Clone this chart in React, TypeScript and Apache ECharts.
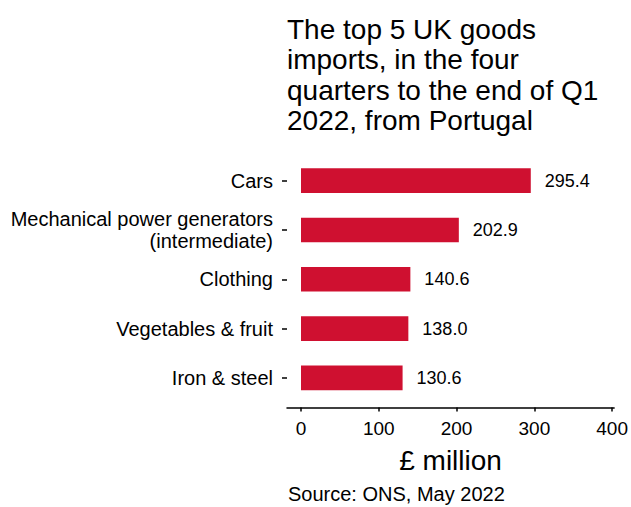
import React, { useEffect, useRef } from "react";
import * as echarts from "echarts";

const categories = [
  "Cars",
  "Mechanical power generators\n(intermediate)",
  "Clothing",
  "Vegetables & fruit",
  "Iron & steel",
];
const values = [295.4, 202.9, 140.6, 138.0, 130.6];
const xTicks = [0, 100, 200, 300, 400];
const titleText =
  "The top 5 UK goods\nimports, in the four\nquarters to the end of Q1\n2022, from Portugal";
const sourceText = "Source: ONS, May 2022";

const FONT = "'Liberation Sans', Arial, sans-serif";

export default function App() {
  const ref = useRef<HTMLDivElement>(null);
  useEffect(() => {
    if (!ref.current) return;
    const chart = echarts.init(ref.current, null, { renderer: "svg" });
    chart.setOption({
      animation: false,
      backgroundColor: "#ffffff",
      textStyle: { fontFamily: FONT },
      title: [
        {
          text: titleText,
          left: 287,
          top: 14,
          padding: 0,
          textStyle: {
            fontFamily: FONT,
            fontSize: 28,
            lineHeight: 30.5,
            fontWeight: "normal",
            color: "#000000",
          },
        },
        {
          text: sourceText,
          left: 288,
          top: 484,
          padding: 0,
          textStyle: {
            fontFamily: FONT,
            fontSize: 20,
            lineHeight: 20,
            fontWeight: "normal",
            color: "#000000",
          },
        },
      ],
      grid: { left: 287, right: 16, top: 156, height: 246.5, containLabel: false },
      xAxis: {
        type: "value",
        min: -18,
        max: 402.5,
        offset: 5,
        axisLine: { show: true, lineStyle: { color: "#000000", width: 1.5 } },
        axisTick: {
          show: true,
          length: 4,
          customValues: xTicks,
          lineStyle: { color: "#000000", width: 1.5 },
        },
        axisLabel: {
          customValues: xTicks,
          fontSize: 19,
          color: "#000000",
          margin: 11,
          fontFamily: FONT,
        },
        splitLine: { show: false },
        name: "£ million",
        nameLocation: "middle",
        nameGap: 39,
        nameTextStyle: { fontSize: 28, color: "#000000", fontFamily: FONT },
      },
      yAxis: {
        type: "category",
        inverse: true,
        data: categories,
        axisLine: { show: false, onZero: false },
        axisTick: {
          show: true,
          alignWithLabel: true,
          length: 5,
          lineStyle: { color: "#000000", width: 1.5 },
        },
        axisLabel: {
          fontSize: 20,
          lineHeight: 22,
          color: "#000000",
          margin: 14,
          fontFamily: FONT,
        },
      },
      series: [
        {
          type: "bar",
          data: values,
          barWidth: "50%",
          itemStyle: { color: "#CF1030" },
          label: {
            show: true,
            position: "right",
            distance: 14,
            fontSize: 18,
            color: "#000000",
            fontFamily: FONT,
            formatter: (p: any) => Number(p.value).toFixed(1),
          },
        },
      ],
    });
    return () => chart.dispose();
  }, []);
  return (
    <div
      ref={ref}
      style={{ position: "fixed", left: 0, top: 0, width: 631, height: 507 }}
    />
  );
}
